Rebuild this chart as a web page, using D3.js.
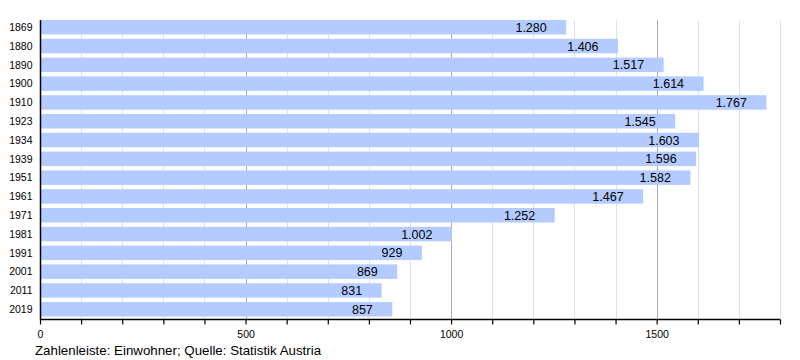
<!DOCTYPE html>
<html><head><meta charset="utf-8">
<script src="https://cdn.jsdelivr.net/npm/d3@7"></script>
<style>body{margin:0;background:#fff}svg{display:block;font-family:"Liberation Sans",Arial,sans-serif}</style>
</head><body><svg id="c" width="800" height="360"></svg>
<script>
const years = ["1869","1880","1890","1900","1910","1923","1934","1939","1951","1961","1971","1981","1991","2001","2011","2019"];
const population = [1280,1406,1517,1614,1767,1545,1603,1596,1582,1467,1252,1002,929,869,831,857];
const majorTicks = [0,500,1000,1500];
const caption = "Zahlenleiste: Einwohner; Quelle: Statistik Austria";

const svg = d3.select("#c");
const x = d3.scaleLinear().domain([0,1800]).range([40,780]);
const y = d3.scaleBand().domain(years).range([20,316.5]).paddingInner(0.23).paddingOuter(0);
const axisY = 319.5;
const fmt = v => d3.format(",")(v).replace(/,/g,".");

// minor grid
const minor = d3.range(100,1801,100).filter(v=>v%500!==0);
svg.append("g").selectAll("line").data(minor).join("line")
  .attr("x1",d=>Math.round(x(d))+0.5).attr("x2",d=>Math.round(x(d))+0.5)
  .attr("y1",20).attr("y2",axisY).attr("stroke","#e0e0e0").attr("stroke-width",1);
svg.append("g").selectAll("line").data(majorTicks.filter(d=>d>0)).join("line")
  .attr("x1",d=>Math.round(x(d))+0.5).attr("x2",d=>Math.round(x(d))+0.5)
  .attr("y1",20).attr("y2",axisY).attr("stroke","#aaaaaa").attr("stroke-width",1);

// bars
svg.append("g").selectAll("rect").data(years).join("rect")
  .attr("x",x(0)).attr("y",d=>y(d))
  .attr("width",(d,i)=>x(population[i])-x(0)).attr("height",y.bandwidth())
  .attr("fill","#b3cbff");

// value labels
svg.append("g").selectAll("text").data(years).join("text")
  .attr("x",(d,i)=>x(population[i])-19.5).attr("y",d=>y(d)+y.bandwidth()/2)
  .attr("dy","0.36em").attr("text-anchor","end").attr("font-size",12.5).attr("fill","#000")
  .text((d,i)=>fmt(population[i]));

// year labels
svg.append("g").selectAll("text").data(years).join("text")
  .attr("x",32.5).attr("y",d=>y(d)+y.bandwidth()/2)
  .attr("dy","0.36em").attr("text-anchor","end").attr("font-size",10.5).attr("fill","#000")
  .text(d=>d);

// left axis line
svg.append("line").attr("x1",40.5).attr("x2",40.5).attr("y1",20).attr("y2",axisY)
  .attr("stroke","#000").attr("stroke-width",1.5);

// bottom axis
const xAxis = d3.axisBottom(x).tickValues(d3.range(0,1801,100)).tickSize(5)
  .tickFormat(d=>majorTicks.includes(d)?d:"");
const gx = svg.append("g").attr("transform",`translate(0,${axisY})`).call(xAxis);
gx.select(".domain").attr("d",`M40,0H780`).attr("stroke","#000").attr("stroke-width",1.5);
gx.selectAll(".tick line").attr("stroke","#000").attr("stroke-width",1.2);
gx.selectAll(".tick text").attr("font-size",10.5).attr("font-family","Liberation Sans, Arial, sans-serif").attr("fill","#000").attr("y",11);

svg.append("text").attr("x",35).attr("y",355).attr("font-size",13.3).attr("fill","#000").text(caption);
</script></body></html>
